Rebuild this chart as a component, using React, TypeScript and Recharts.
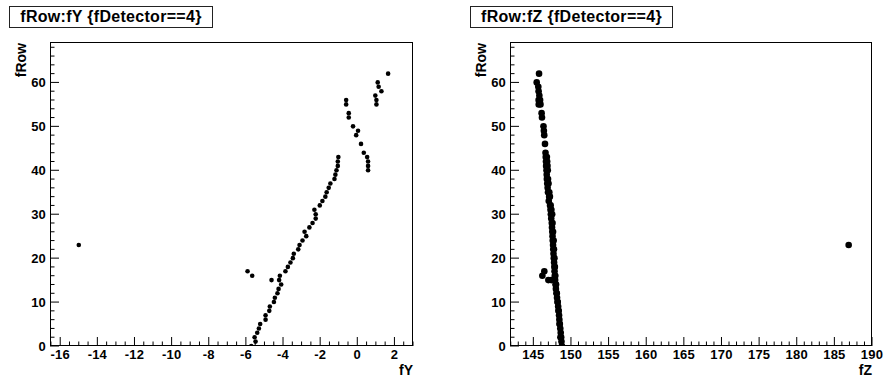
import React from 'react';
import { ScatterChart, Scatter, XAxis, YAxis } from 'recharts';

// ---------- data ----------
// left panel: fRow vs fY
const leftFY = [
  -5.71, -5.48, -5.53, -5.39, -5.30, -5.23, -4.94, -4.94, -4.74, -4.71,
  -4.49, -4.44, -4.30, -4.24, -4.10, -4.21, -4.17, -3.87, -3.74, -3.60,
  -3.47, -3.42, -3.18, -3.11, -2.95, -2.75, -2.84, -2.58, -2.41, -2.24,
  -2.24, -2.31, -2.02, -1.88, -1.72, -1.65, -1.54, -1.45, -1.23, -1.18,
  -1.12, -1.05, -1.05, -1.02,
  -15.0, -5.91, -5.66, -4.62,
  0.58, 0.58, 0.58, 0.53, 0.35, 0.20, -0.06, 0.04, -0.23, -0.46,
  -0.46, -0.60, -0.60, 1.03, 1.03, 0.97, 1.30, 1.15, 1.10, 1.66,
];
const leftRow = [
  0, 1, 2, 3, 4, 5, 6, 7, 8, 9,
  10, 11, 12, 13, 14, 15, 16, 17, 18, 19,
  20, 21, 22, 23, 24, 25, 26, 27, 28, 29,
  30, 31, 32, 33, 34, 35, 36, 37, 38, 39,
  40, 41, 42, 43,
  23, 17, 16, 15,
  40, 41, 42, 43, 44, 46, 48, 49, 50, 52,
  53, 55, 56, 55, 56, 57, 58, 59, 60, 62,
];

// right panel: fRow vs fZ
const rightFZ = [
  148.80, 148.74, 148.70, 148.64, 148.58, 148.52, 148.46, 148.42, 148.35, 148.30,
  148.22, 148.15, 148.08, 148.00, 147.95, 147.90, 147.85, 147.82, 147.80, 147.76,
  147.72, 147.68, 147.65, 147.62, 147.58, 147.55, 147.52, 147.48, 147.45, 147.38,
  147.33, 147.28, 147.22, 147.05, 147.10, 146.95, 146.90, 146.85, 146.80, 146.78,
  146.75, 146.70, 146.68, 146.65, 146.62, 146.55, 146.45, 146.40, 146.35, 146.15,
  146.10, 145.95, 145.90, 145.80, 145.70, 145.66, 145.45, 145.76,
  146.46, 146.20, 147.00, 147.40, 186.9,
  146.92, 146.88, 146.84, 146.80, 145.72, 145.70,
  148.60, 148.48, 148.36, 148.24, 148.12, 148.02, 147.92, 147.86, 147.80, 147.74,
  147.70, 147.62, 147.55, 147.50, 147.40, 147.30, 147.20, 147.12, 147.02, 146.95,
];
const rightRow = [
  0, 1, 2, 3, 4, 5, 6, 7, 8, 9,
  10, 11, 12, 13, 14, 15, 16, 17, 18, 19,
  20, 21, 22, 23, 24, 25, 26, 27, 28, 29,
  30, 31, 32, 33, 34, 35, 36, 37, 38, 39,
  40, 41, 42, 43, 44, 46, 48, 49, 50, 52,
  53, 55, 56, 57, 58, 59, 60, 62,
  17, 16, 15, 15, 23,
  40, 41, 42, 43, 55, 56,
  2, 5, 8, 10, 12, 14, 16, 18, 20, 22,
  24, 26, 28, 30, 31, 32, 34, 35, 37, 38,
];

// axis tick labels
const leftXMajor = [-16, -14, -12, -10, -8, -6, -4, -2, 0, 2];
const rightXMajor = [145, 150, 155, 160, 165, 170, 175, 180, 185, 190];
const yMajor = [0, 10, 20, 30, 40, 50, 60];

// ---------- helpers ----------
const range = (a: number, b: number, step: number) => {
  const out: number[] = [];
  for (let i = 0; a + i * step <= b + 1e-9; i++) out.push(Math.round((a + i * step) * 1000) / 1000);
  return out;
};
const leftXTicks = range(-16.5, 3.0, 0.5);
const rightXTicks = range(142, 190, 1);
const yTicks = range(0, 68, 2);

const zip = (xs: number[], ys: number[]) => xs.map((x, i) => ({ x, y: ys[i] }));
const leftData = zip(leftFY, leftRow);
const rightData = zip(rightFZ, rightRow);

const FONT = '"Liberation Sans", Arial, Helvetica, sans-serif';

const makeXTick = (majors: number[]) => (props: any) => {
  const { x, y, payload } = props;
  const v = payload.value;
  const major = majors.includes(v);
  return (
    <g>
      <line x1={x} x2={x} y1={y} y2={y - (major ? 9 : 4.5)} stroke="#000" strokeWidth={1} />
      {major && (
        <text x={x} y={y + 13} textAnchor="middle" fontFamily={FONT} fontWeight="bold" fontSize={13} letterSpacing={0.2} fill="#000">
          {v}
        </text>
      )}
    </g>
  );
};

const YTick = (props: any) => {
  const { x, y, payload } = props;
  const v = payload.value;
  const major = yMajor.includes(v);
  return (
    <g>
      <line x1={x} x2={x + (major ? 9 : 4.5)} y1={y} y2={y} stroke="#000" strokeWidth={1} />
      {major && (
        <text x={x - 4} y={y + 4.5} textAnchor="end" fontFamily={FONT} fontWeight="bold" fontSize={13} letterSpacing={0.2} fill="#000">
          {v}
        </text>
      )}
    </g>
  );
};

const dot = (r: number) => (props: any) => <circle cx={props.cx} cy={props.cy} r={r} fill="#000" />;

type PanelProps = {
  left: number;
  xName: string;
  data: { x: number; y: number }[];
  xDomain: [number, number];
  xTicks: number[];
  xMajor: number[];
  plotLeft: number;
  plotRight: number;
  r: number;
};

const PLOT_TOP = 42;
const PLOT_BOTTOM = 346;
const H = 378;
const W = 443;

const Panel = ({ left, xName, data, xDomain, xTicks, xMajor, plotLeft, plotRight, r }: PanelProps) => (
  <div style={{ position: 'absolute', left, top: 0, width: W, height: H }}>
    <ScatterChart
      width={W}
      height={H}
      margin={{ top: PLOT_TOP, left: 0, right: W - plotRight, bottom: 0 }}
    >
      <XAxis
        type="number"
        dataKey="x"
        domain={xDomain}
        ticks={xTicks}
        interval={0}
        allowDataOverflow
        height={H - PLOT_BOTTOM}
        tickSize={0}
        tickMargin={0}
        axisLine={false}
        tickLine={false}
        tick={makeXTick(xMajor)}
      />
      <YAxis
        type="number"
        dataKey="y"
        domain={[0, 69.2]}
        ticks={yTicks}
        interval={0}
        allowDataOverflow
        width={plotLeft}
        tickSize={0}
        tickMargin={0}
        axisLine={false}
        tickLine={false}
        tick={YTick}
      />
      <Scatter data={data} isAnimationActive={false} shape={dot(r)} />
    </ScatterChart>
    <svg width={W} height={H} style={{ position: 'absolute', left: 0, top: 0, pointerEvents: 'none' }}>
      <rect
        x={plotLeft + 0.5}
        y={PLOT_TOP + 0.5}
        width={plotRight - plotLeft - 1}
        height={PLOT_BOTTOM - PLOT_TOP - 1}
        fill="none"
        stroke="#000"
        strokeWidth={1}
      />
      <text
        x={plotRight}
        y={375}
        textAnchor="end"
        fontFamily={FONT}
        fontWeight="bold"
        fontSize={14}
        fill="#000"
      >
        {xName}
      </text>
      <text
        transform={`translate(${plotLeft - 24}, ${PLOT_TOP + 1}) rotate(-90)`}
        textAnchor="end"
        fontFamily={FONT}
        fontWeight="bold"
        fontSize={14}
        fill="#000"
      >
        fRow
      </text>
    </svg>
  </div>
);

const TitleBox = ({ left, width, text }: { left: number; width: number; text: string }) => (
  <div
    style={{
      position: 'absolute',
      left,
      top: 6,
      width,
      height: 22,
      boxSizing: 'border-box',
      border: '1px solid #222',
      background: '#fff',
      fontFamily: FONT,
      fontWeight: 'bold',
      fontSize: 16,
      letterSpacing: 0.3,
      lineHeight: '20px',
      textAlign: 'center',
      color: '#000',
      whiteSpace: 'nowrap',
    }}
  >
    {text}
  </div>
);

export default function App() {
  return (
    <div style={{ position: 'fixed', left: 0, top: 0, width: 886, height: 378, background: '#fff', overflow: 'hidden' }}>
      <Panel
        left={0}
        xName="fY"
        data={leftData}
        xDomain={[-16.55, 3.0]}
        xTicks={leftXTicks}
        xMajor={leftXMajor}
        plotLeft={50}
        plotRight={413}
        r={2.3}
      />
      <Panel
        left={443}
        xName="fZ"
        data={rightData}
        xDomain={[141.9, 190]}
        xTicks={rightXTicks}
        xMajor={rightXMajor}
        plotLeft={67}
        plotRight={429}
        r={3.3}
      />
      <TitleBox left={9} width={204} text="fRow:fY {fDetector==4}" />
      <TitleBox left={470} width={203} text="fRow:fZ {fDetector==4}" />
    </div>
  );
}
